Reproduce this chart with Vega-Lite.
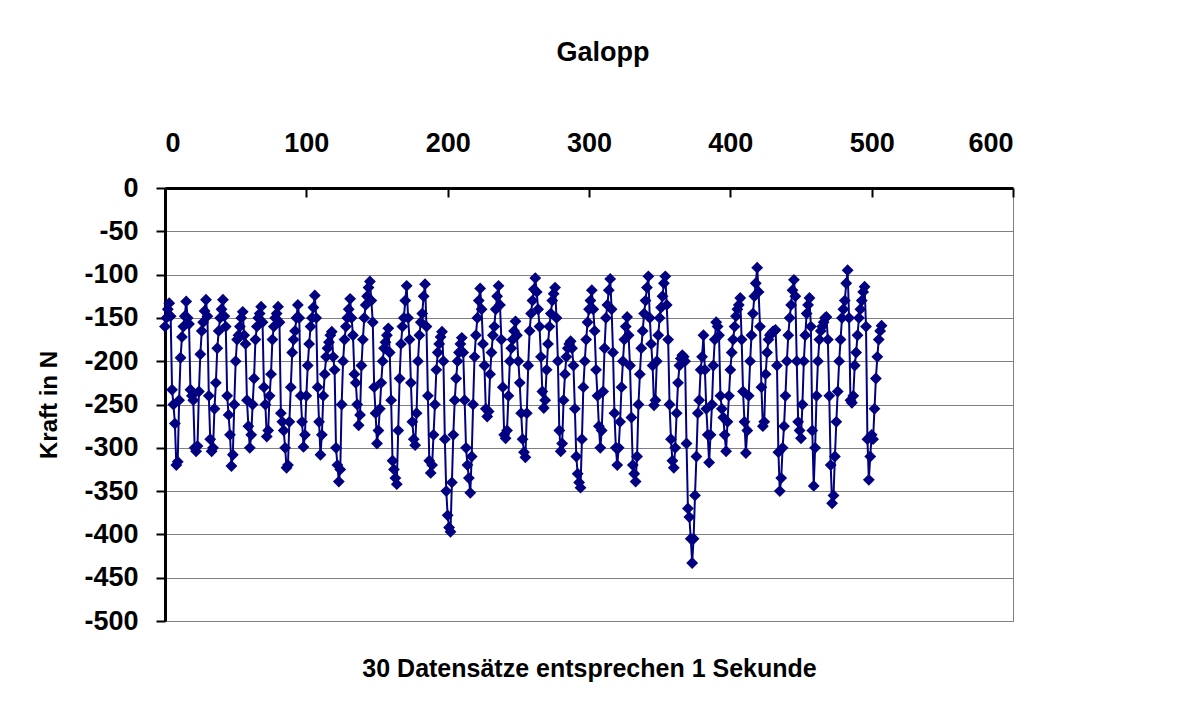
{
  "$schema": "https://vega.github.io/schema/vega-lite/v6.json",
  "width": 848,
  "height": 433,
  "autosize": {"type": "none"},
  "padding": {"left": 165, "top": 188, "right": 183, "bottom": 88},
  "background": "white",
  "title": {"text": "Galopp", "font": "Liberation Sans", "fontSize": 27, "fontWeight": "bold", "color": "black", "anchor": "middle", "dx": 14, "offset": 62},
  "data": {"values": [
{"i":0,"f":-160},{"i":1,"f":-150},{"i":2,"f":-140},{"i":3,"f":-133},{"i":4,"f":-148},{"i":5,"f":-233},{"i":6,"f":-250},{"i":7,"f":-272},{"i":8,"f":-320},{"i":9,"f":-316},
{"i":10,"f":-245},{"i":11,"f":-196},{"i":12,"f":-172},{"i":13,"f":-160},{"i":14,"f":-148},{"i":15,"f":-131},{"i":16,"f":-150},{"i":17,"f":-157},{"i":18,"f":-233},{"i":19,"f":-240},
{"i":20,"f":-245},{"i":21,"f":-300},{"i":22,"f":-304},{"i":23,"f":-298},{"i":24,"f":-235},{"i":25,"f":-192},{"i":26,"f":-165},{"i":27,"f":-155},{"i":28,"f":-142},{"i":29,"f":-129},
{"i":30,"f":-148},{"i":31,"f":-240},{"i":32,"f":-290},{"i":33,"f":-304},{"i":34,"f":-300},{"i":35,"f":-255},{"i":36,"f":-225},{"i":37,"f":-185},{"i":38,"f":-165},{"i":39,"f":-150},
{"i":40,"f":-140},{"i":41,"f":-129},{"i":42,"f":-148},{"i":43,"f":-160},{"i":44,"f":-240},{"i":45,"f":-262},{"i":46,"f":-285},{"i":47,"f":-321},{"i":48,"f":-308},{"i":49,"f":-250},
{"i":50,"f":-200},{"i":51,"f":-175},{"i":52,"f":-170},{"i":53,"f":-160},{"i":54,"f":-150},{"i":55,"f":-143},{"i":56,"f":-170},{"i":57,"f":-180},{"i":58,"f":-245},{"i":59,"f":-275},
{"i":60,"f":-300},{"i":61,"f":-285},{"i":62,"f":-250},{"i":63,"f":-220},{"i":64,"f":-175},{"i":65,"f":-160},{"i":66,"f":-150},{"i":67,"f":-145},{"i":68,"f":-137},{"i":69,"f":-155},
{"i":70,"f":-230},{"i":71,"f":-250},{"i":72,"f":-287},{"i":73,"f":-280},{"i":74,"f":-240},{"i":75,"f":-215},{"i":76,"f":-175},{"i":77,"f":-160},{"i":78,"f":-150},{"i":79,"f":-145},
{"i":80,"f":-137},{"i":81,"f":-155},{"i":82,"f":-260},{"i":83,"f":-270},{"i":84,"f":-280},{"i":85,"f":-300},{"i":86,"f":-323},{"i":87,"f":-320},{"i":88,"f":-270},{"i":89,"f":-230},
{"i":90,"f":-190},{"i":91,"f":-175},{"i":92,"f":-165},{"i":93,"f":-150},{"i":94,"f":-135},{"i":95,"f":-150},{"i":96,"f":-240},{"i":97,"f":-270},{"i":98,"f":-299},{"i":99,"f":-285},
{"i":100,"f":-240},{"i":101,"f":-205},{"i":102,"f":-180},{"i":103,"f":-160},{"i":104,"f":-150},{"i":105,"f":-138},{"i":106,"f":-124},{"i":107,"f":-150},{"i":108,"f":-230},{"i":109,"f":-270},
{"i":110,"f":-308},{"i":111,"f":-285},{"i":112,"f":-240},{"i":113,"f":-215},{"i":114,"f":-195},{"i":115,"f":-185},{"i":116,"f":-178},{"i":117,"f":-170},{"i":118,"f":-166},{"i":119,"f":-195},
{"i":120,"f":-210},{"i":121,"f":-300},{"i":122,"f":-320},{"i":123,"f":-339},{"i":124,"f":-325},{"i":125,"f":-250},{"i":126,"f":-200},{"i":127,"f":-175},{"i":128,"f":-160},{"i":129,"f":-150},
{"i":130,"f":-140},{"i":131,"f":-128},{"i":132,"f":-150},{"i":133,"f":-170},{"i":134,"f":-215},{"i":135,"f":-225},{"i":136,"f":-250},{"i":137,"f":-274},{"i":138,"f":-262},{"i":139,"f":-205},
{"i":140,"f":-175},{"i":141,"f":-150},{"i":142,"f":-135},{"i":143,"f":-125},{"i":144,"f":-115},{"i":145,"f":-108},{"i":146,"f":-130},{"i":147,"f":-155},{"i":148,"f":-230},{"i":149,"f":-260},
{"i":150,"f":-295},{"i":151,"f":-280},{"i":152,"f":-255},{"i":153,"f":-225},{"i":154,"f":-200},{"i":155,"f":-185},{"i":156,"f":-178},{"i":157,"f":-170},{"i":158,"f":-162},{"i":159,"f":-190},
{"i":160,"f":-245},{"i":161,"f":-315},{"i":162,"f":-325},{"i":163,"f":-335},{"i":164,"f":-342},{"i":165,"f":-280},{"i":166,"f":-220},{"i":167,"f":-180},{"i":168,"f":-160},{"i":169,"f":-150},
{"i":170,"f":-130},{"i":171,"f":-113},{"i":172,"f":-150},{"i":173,"f":-175},{"i":174,"f":-225},{"i":175,"f":-270},{"i":176,"f":-290},{"i":177,"f":-297},{"i":178,"f":-260},{"i":179,"f":-200},
{"i":180,"f":-170},{"i":181,"f":-155},{"i":182,"f":-145},{"i":183,"f":-125},{"i":184,"f":-111},{"i":185,"f":-160},{"i":186,"f":-240},{"i":187,"f":-315},{"i":188,"f":-329},{"i":189,"f":-320},
{"i":190,"f":-285},{"i":191,"f":-250},{"i":192,"f":-210},{"i":193,"f":-190},{"i":194,"f":-180},{"i":195,"f":-172},{"i":196,"f":-166},{"i":197,"f":-200},{"i":198,"f":-290},{"i":199,"f":-350},
{"i":200,"f":-378},{"i":201,"f":-392},{"i":202,"f":-397},{"i":203,"f":-340},{"i":204,"f":-285},{"i":205,"f":-245},{"i":206,"f":-220},{"i":207,"f":-200},{"i":208,"f":-190},{"i":209,"f":-180},
{"i":210,"f":-173},{"i":211,"f":-190},{"i":212,"f":-245},{"i":213,"f":-300},{"i":214,"f":-320},{"i":215,"f":-335},{"i":216,"f":-352},{"i":217,"f":-310},{"i":218,"f":-250},{"i":219,"f":-195},
{"i":220,"f":-170},{"i":221,"f":-150},{"i":222,"f":-130},{"i":223,"f":-116},{"i":224,"f":-140},{"i":225,"f":-180},{"i":226,"f":-205},{"i":227,"f":-255},{"i":228,"f":-264},{"i":229,"f":-258},
{"i":230,"f":-215},{"i":231,"f":-190},{"i":232,"f":-170},{"i":233,"f":-160},{"i":234,"f":-140},{"i":235,"f":-125},{"i":236,"f":-113},{"i":237,"f":-135},{"i":238,"f":-175},{"i":239,"f":-230},
{"i":240,"f":-285},{"i":241,"f":-289},{"i":242,"f":-280},{"i":243,"f":-240},{"i":244,"f":-200},{"i":245,"f":-185},{"i":246,"f":-175},{"i":247,"f":-165},{"i":248,"f":-154},{"i":249,"f":-170},
{"i":250,"f":-200},{"i":251,"f":-225},{"i":252,"f":-260},{"i":253,"f":-290},{"i":254,"f":-305},{"i":255,"f":-311},{"i":256,"f":-260},{"i":257,"f":-205},{"i":258,"f":-165},{"i":259,"f":-145},
{"i":260,"f":-130},{"i":261,"f":-117},{"i":262,"f":-104},{"i":263,"f":-120},{"i":264,"f":-140},{"i":265,"f":-160},{"i":266,"f":-195},{"i":267,"f":-235},{"i":268,"f":-254},{"i":269,"f":-245},
{"i":270,"f":-210},{"i":271,"f":-180},{"i":272,"f":-160},{"i":273,"f":-145},{"i":274,"f":-130},{"i":275,"f":-122},{"i":276,"f":-115},{"i":277,"f":-150},{"i":278,"f":-200},{"i":279,"f":-280},
{"i":280,"f":-304},{"i":281,"f":-295},{"i":282,"f":-245},{"i":283,"f":-215},{"i":284,"f":-195},{"i":285,"f":-185},{"i":286,"f":-180},{"i":287,"f":-177},{"i":288,"f":-185},{"i":289,"f":-205},
{"i":290,"f":-255},{"i":291,"f":-310},{"i":292,"f":-330},{"i":293,"f":-340},{"i":294,"f":-346},{"i":295,"f":-290},{"i":296,"f":-230},{"i":297,"f":-200},{"i":298,"f":-175},{"i":299,"f":-155},
{"i":300,"f":-140},{"i":301,"f":-130},{"i":302,"f":-118},{"i":303,"f":-140},{"i":304,"f":-165},{"i":305,"f":-210},{"i":306,"f":-240},{"i":307,"f":-275},{"i":308,"f":-300},{"i":309,"f":-280},
{"i":310,"f":-235},{"i":311,"f":-185},{"i":312,"f":-150},{"i":313,"f":-135},{"i":314,"f":-118},{"i":315,"f":-105},{"i":316,"f":-140},{"i":317,"f":-190},{"i":318,"f":-260},{"i":319,"f":-300},
{"i":320,"f":-320},{"i":321,"f":-300},{"i":322,"f":-270},{"i":323,"f":-230},{"i":324,"f":-200},{"i":325,"f":-175},{"i":326,"f":-160},{"i":327,"f":-149},{"i":328,"f":-170},{"i":329,"f":-205},
{"i":330,"f":-265},{"i":331,"f":-320},{"i":332,"f":-330},{"i":333,"f":-339},{"i":334,"f":-310},{"i":335,"f":-250},{"i":336,"f":-215},{"i":337,"f":-185},{"i":338,"f":-165},{"i":339,"f":-145},
{"i":340,"f":-130},{"i":341,"f":-115},{"i":342,"f":-102},{"i":343,"f":-150},{"i":344,"f":-180},{"i":345,"f":-205},{"i":346,"f":-251},{"i":347,"f":-245},{"i":348,"f":-200},{"i":349,"f":-170},
{"i":350,"f":-150},{"i":351,"f":-138},{"i":352,"f":-125},{"i":353,"f":-110},{"i":354,"f":-102},{"i":355,"f":-135},{"i":356,"f":-175},{"i":357,"f":-250},{"i":358,"f":-290},{"i":359,"f":-315},
{"i":360,"f":-323},{"i":361,"f":-300},{"i":362,"f":-260},{"i":363,"f":-225},{"i":364,"f":-205},{"i":365,"f":-197},{"i":366,"f":-193},{"i":367,"f":-195},{"i":368,"f":-200},{"i":369,"f":-295},
{"i":370,"f":-370},{"i":371,"f":-380},{"i":372,"f":-405},{"i":373,"f":-433},{"i":374,"f":-405},{"i":375,"f":-355},{"i":376,"f":-310},{"i":377,"f":-260},{"i":378,"f":-245},{"i":379,"f":-210},
{"i":380,"f":-195},{"i":381,"f":-170},{"i":382,"f":-210},{"i":383,"f":-255},{"i":384,"f":-285},{"i":385,"f":-317},{"i":386,"f":-285},{"i":387,"f":-250},{"i":388,"f":-205},{"i":389,"f":-175},
{"i":390,"f":-155},{"i":391,"f":-160},{"i":392,"f":-170},{"i":393,"f":-240},{"i":394,"f":-255},{"i":395,"f":-265},{"i":396,"f":-285},{"i":397,"f":-304},{"i":398,"f":-270},{"i":399,"f":-240},
{"i":400,"f":-210},{"i":401,"f":-190},{"i":402,"f":-175},{"i":403,"f":-160},{"i":404,"f":-148},{"i":405,"f":-140},{"i":406,"f":-135},{"i":407,"f":-127},{"i":408,"f":-175},{"i":409,"f":-235},
{"i":410,"f":-270},{"i":411,"f":-306},{"i":412,"f":-280},{"i":413,"f":-240},{"i":414,"f":-200},{"i":415,"f":-170},{"i":416,"f":-145},{"i":417,"f":-125},{"i":418,"f":-110},{"i":419,"f":-92},
{"i":420,"f":-120},{"i":421,"f":-160},{"i":422,"f":-230},{"i":423,"f":-275},{"i":424,"f":-270},{"i":425,"f":-215},{"i":426,"f":-190},{"i":427,"f":-175},{"i":428,"f":-170},{"i":429,"f":-168},
{"i":430,"f":-166},{"i":431,"f":-165},{"i":432,"f":-164},{"i":433,"f":-205},{"i":434,"f":-305},{"i":435,"f":-350},{"i":436,"f":-335},{"i":437,"f":-300},{"i":438,"f":-275},{"i":439,"f":-240},
{"i":440,"f":-200},{"i":441,"f":-170},{"i":442,"f":-150},{"i":443,"f":-135},{"i":444,"f":-118},{"i":445,"f":-106},{"i":446,"f":-125},{"i":447,"f":-200},{"i":448,"f":-270},{"i":449,"f":-280},
{"i":450,"f":-289},{"i":451,"f":-250},{"i":452,"f":-200},{"i":453,"f":-170},{"i":454,"f":-145},{"i":455,"f":-135},{"i":456,"f":-127},{"i":457,"f":-160},{"i":458,"f":-280},{"i":459,"f":-344},
{"i":460,"f":-300},{"i":461,"f":-240},{"i":462,"f":-200},{"i":463,"f":-175},{"i":464,"f":-165},{"i":465,"f":-160},{"i":466,"f":-155},{"i":467,"f":-150},{"i":468,"f":-149},{"i":469,"f":-175},
{"i":470,"f":-240},{"i":471,"f":-320},{"i":472,"f":-364},{"i":473,"f":-355},{"i":474,"f":-310},{"i":475,"f":-270},{"i":476,"f":-235},{"i":477,"f":-200},{"i":478,"f":-175},{"i":479,"f":-150},
{"i":480,"f":-140},{"i":481,"f":-130},{"i":482,"f":-110},{"i":483,"f":-95},{"i":484,"f":-150},{"i":485,"f":-245},{"i":486,"f":-248},{"i":487,"f":-240},{"i":488,"f":-205},{"i":489,"f":-190},
{"i":490,"f":-170},{"i":491,"f":-150},{"i":492,"f":-140},{"i":493,"f":-130},{"i":494,"f":-120},{"i":495,"f":-114},{"i":496,"f":-160},{"i":497,"f":-290},{"i":498,"f":-337},{"i":499,"f":-310},
{"i":500,"f":-285},{"i":501,"f":-290},{"i":502,"f":-255},{"i":503,"f":-220},{"i":504,"f":-195},{"i":505,"f":-175},{"i":506,"f":-165},{"i":507,"f":-159}
  ]},
  "encoding": {
    "y": {
      "field": "f", "type": "quantitative",
      "scale": {"domain": [-500, 0], "nice": false, "zero": false},
      "axis": {
        "title": "Kraft in N",
        "titleFont": "Liberation Sans", "titleFontSize": 24, "titleFontWeight": "bold", "titleColor": "black", "titlePadding": 22,
        "labelFont": "Liberation Sans", "labelFontSize": 27, "labelFontWeight": "bold", "labelColor": "black", "labelPadding": 18,
        "labelExpr": "'' + datum.value",
        "values": [-500, -450, -400, -350, -300, -250, -200, -150, -100, -50, 0],
        "domainColor": "black", "domainWidth": 3,
        "tickColor": "black", "tickWidth": 2, "tickSize": 9,
        "grid": true, "gridColor": "#808080", "gridWidth": 1
      }
    }
  },
  "layer": [
    {
      "mark": {"type": "line", "color": "#000080", "strokeWidth": 2},
      "encoding": {
        "x": {
          "field": "i", "type": "quantitative",
          "scale": {"domain": [0, 600], "nice": false, "zero": false},
          "axis": {
            "orient": "top", "title": null,
            "values": [0, 100, 200, 300, 400, 500, 600],
            "labelFont": "Liberation Sans", "labelFontSize": 27, "labelFontWeight": "bold", "labelColor": "black",
            "labelExpr": "'' + datum.value",
            "domainColor": "black", "domainWidth": 3,
            "tickColor": "black", "tickWidth": 2, "tickSize": -9, "labelPadding": 40,
            "grid": false
          }
        }
      }
    },
    {
      "mark": {"type": "point", "shape": "diamond", "filled": true, "color": "#000080", "size": 140, "opacity": 1},
      "encoding": {
        "x": {
          "field": "i", "type": "quantitative",
          "axis": {
            "orient": "bottom", "title": "30 Datensätze entsprechen 1 Sekunde",
            "titleFont": "Liberation Sans", "titleFontSize": 25, "titleFontWeight": "bold", "titleColor": "black", "titlePadding": 35,
            "labels": false, "ticks": false, "domain": false, "grid": false
          }
        }
      }
    }
  ],
  "resolve": {"axis": {"x": "independent"}},
  "config": {"view": {"stroke": "#808080", "strokeWidth": 1}}
}
